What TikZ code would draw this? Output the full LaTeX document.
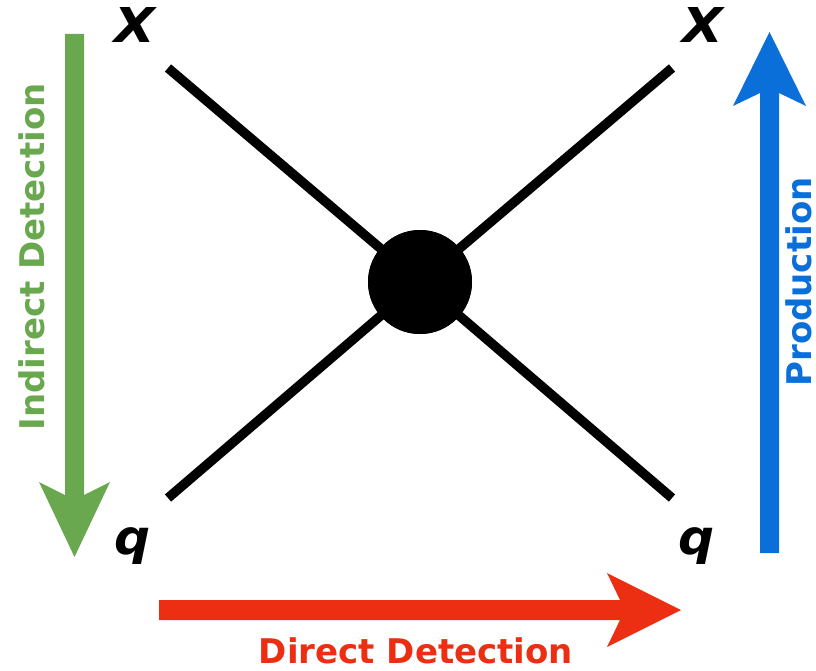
\documentclass[tikz,border=0pt]{standalone}
\usepackage{fontspec}
\setmainfont{DejaVu Sans}
\definecolor{idgreen}{RGB}{106,168,79}
\definecolor{ddred}{RGB}{236,46,19}
\definecolor{prblue}{RGB}{10,111,216}
\tikzset{
  particle/.style={font=\bfseries\itshape\fontsize{48}{48}\selectfont, inner sep=0pt, anchor=base},
  arrowlabel/.style={font=\bfseries\fontsize{34}{34}\selectfont, inner sep=0pt},
  leg/.style={line width=9.5pt, black},
  blob/.style={circle, fill=black, minimum size=104pt, inner sep=0pt}
}
\begin{document}
\begin{tikzpicture}[x=1pt,y=-1pt]
\useasboundingbox (0,0) rectangle (816,671);
% corners
\coordinate (tl) at (168,68);
\coordinate (tr) at (672,68);
\coordinate (bl) at (168,498);
\coordinate (br) at (672,498);
\node[blob] (c) at (420,282) {};
\draw[leg] (tl) -- (c.center);
\draw[leg] (tr) -- (c.center);
\draw[leg] (bl) -- (c.center);
\draw[leg] (br) -- (c.center);
\node[blob] (c2) at (420,282) {};
% particle labels
\node[particle] (x1) at (135,43) {\scalebox{1.1}[1]{X}};
\node[particle] (x2) at (703,43) {\scalebox{1.1}[1]{X}};
\node[particle] (q1) at (133,554) {\scalebox{1.05}[1]{q}};
\node[particle] (q2) at (697,554) {\scalebox{1.05}[1]{q}};
% green arrow (down)
\fill[idgreen] (65,34) -- (84,34) -- (84,495) -- (110,482) -- (74.5,557) -- (39,482) -- (65,495) -- cycle;
% red arrow (right)
\fill[ddred] (159,600) -- (620,600) -- (607,573) -- (681,610) -- (607,647) -- (620,620) -- (159,620) -- cycle;
% blue arrow (up)
\fill[prblue] (760,553) -- (760,93) -- (733,106) -- (769.5,32) -- (806,106) -- (779,93) -- (779,553) -- cycle;
% arrow labels
\node[arrowlabel, text=idgreen, rotate=90] (lid) at (31.5,257) {Indirect Detection};
\node[arrowlabel, text=ddred] (ldd) at (416,651) {Direct Detection};
\node[arrowlabel, text=prblue, rotate=90] (lpr) at (799,282) {Production};
\end{tikzpicture}
\end{document}
